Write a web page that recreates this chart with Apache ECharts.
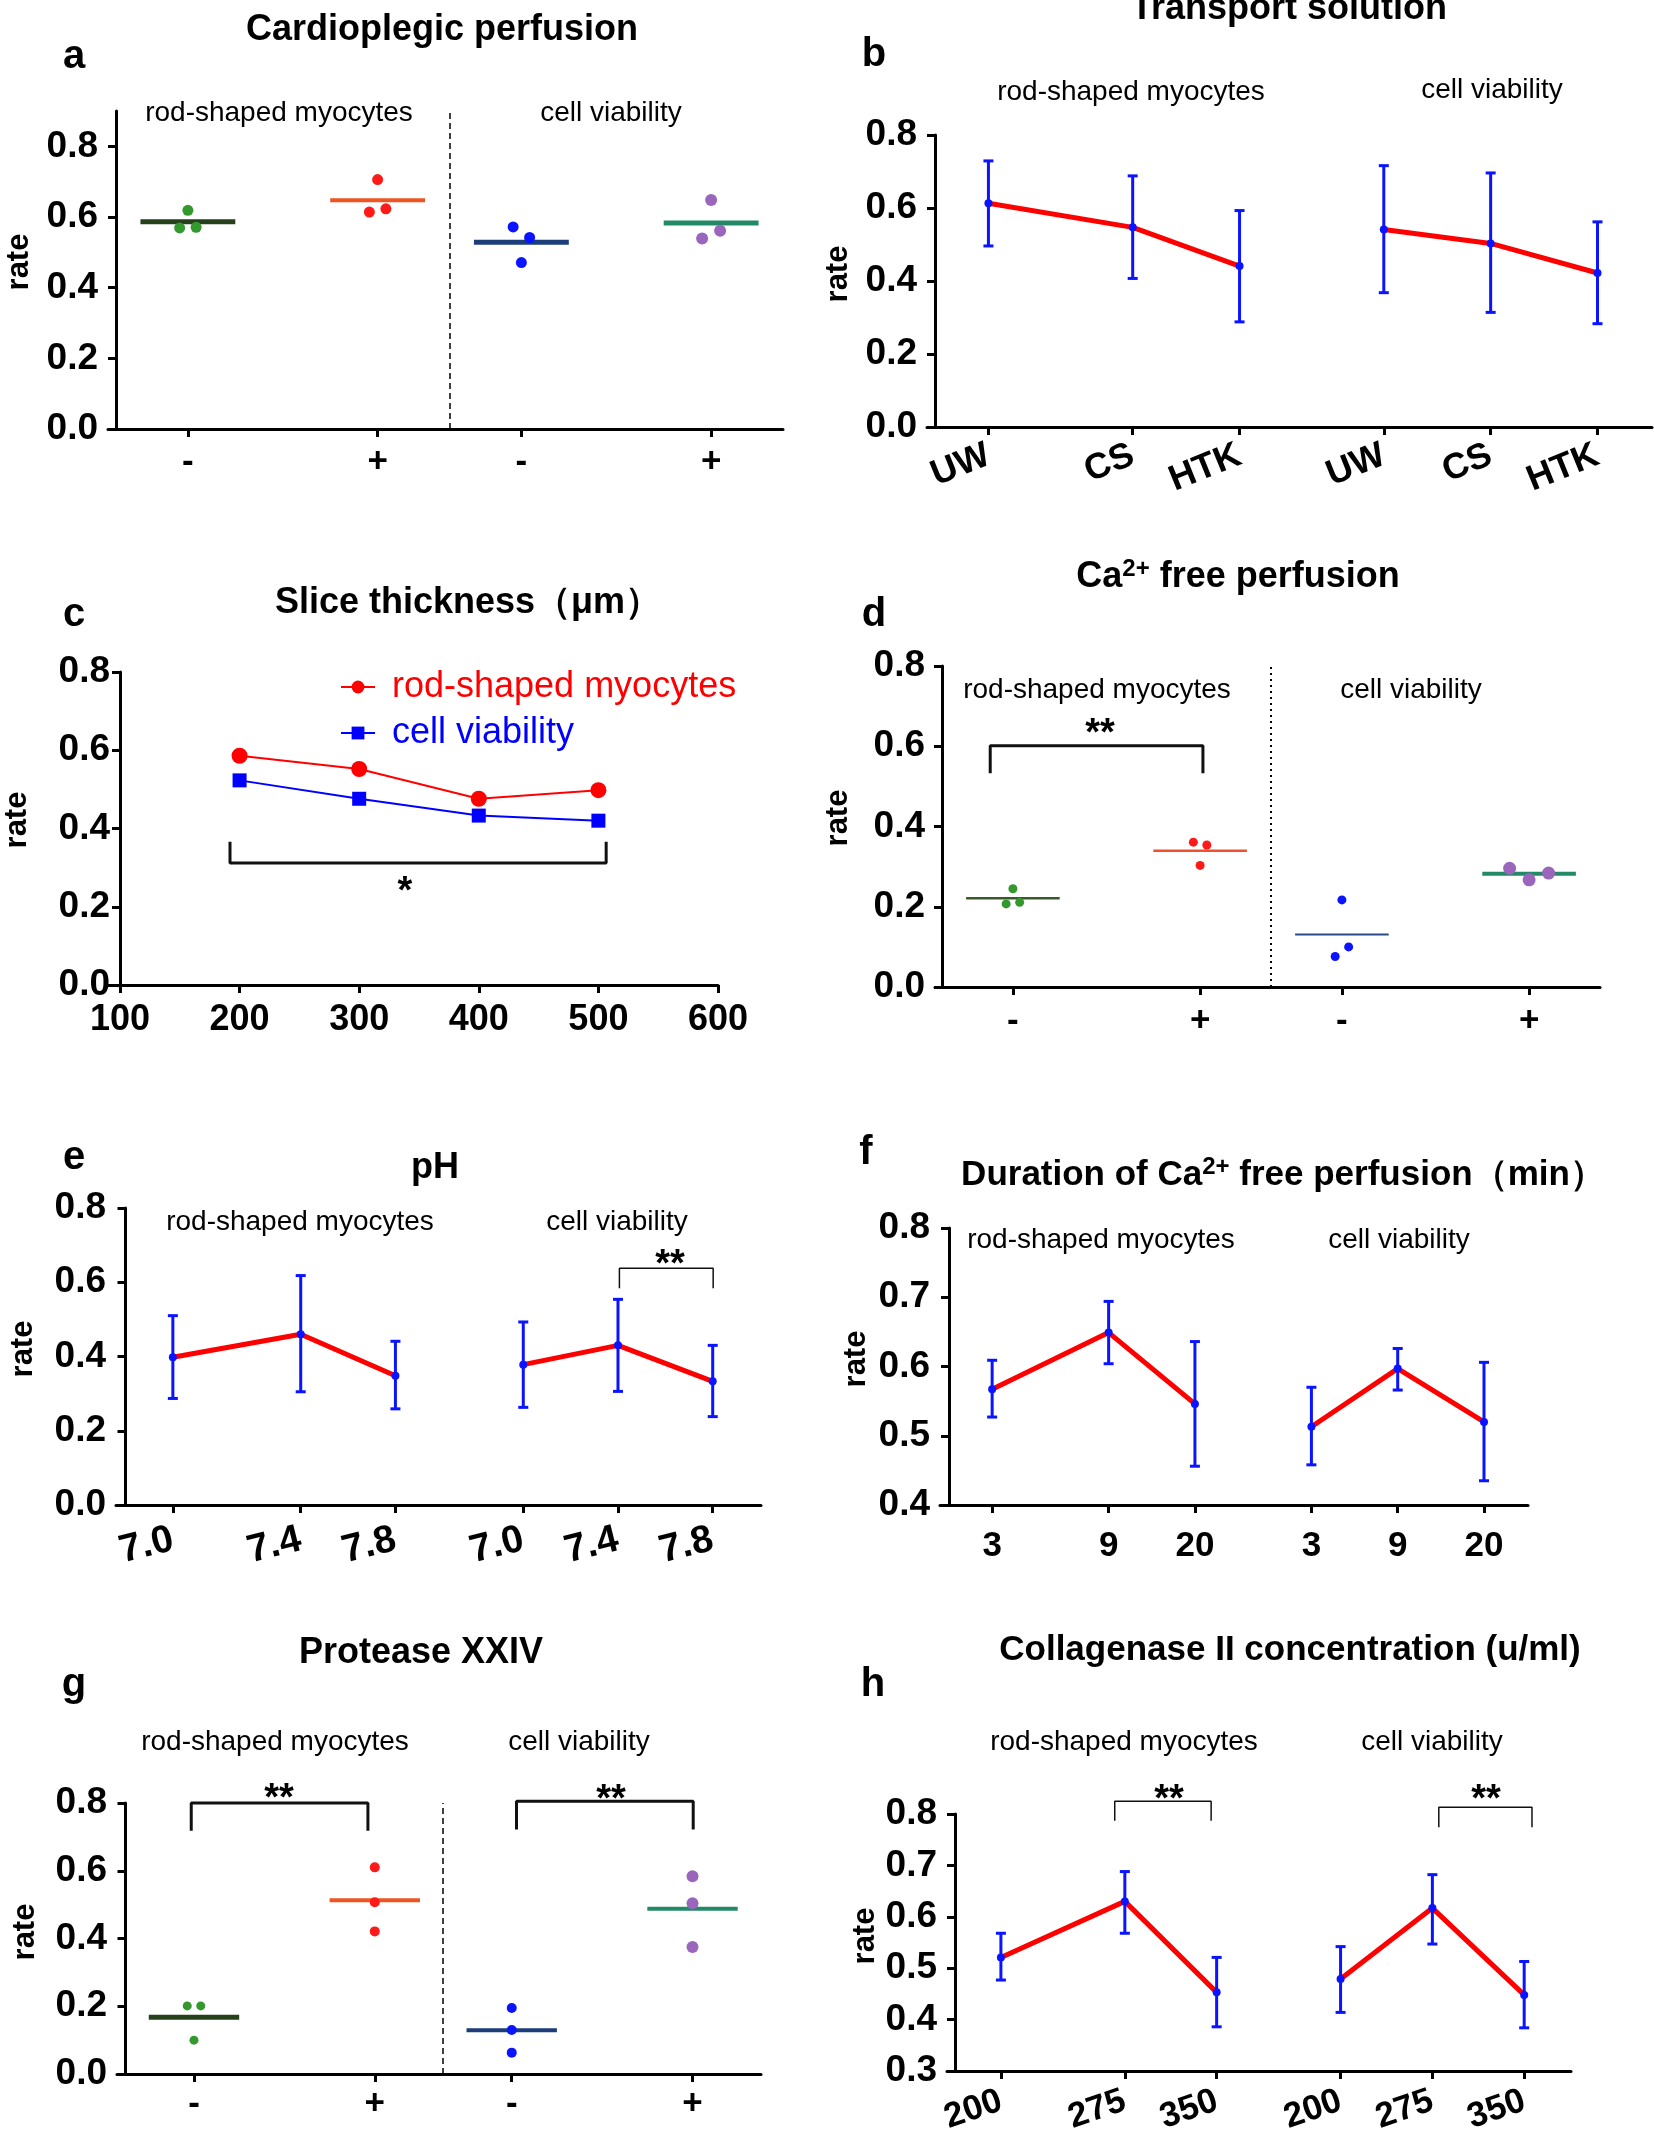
<!DOCTYPE html>
<html>
<head>
<meta charset="utf-8">
<script src="https://cdn.jsdelivr.net/npm/echarts@6/dist/echarts.min.js"></script>
<style>
html, body { margin: 0; padding: 0; background: #fff; }
#figure { width: 1654px; height: 2132px; }
</style>
</head>
<body>
<div id="figure"></div>
<script>
const FONT = '"Liberation Sans", Arial, sans-serif';

// x slots shared by the panels (value-axis units)
const dotSlots = [1, 3.64, 5.64, 8.28];
const dotDivider = 4.64;
const dotMax = 9.28;
const lineSlots = [1, 3.7, 5.7, 8.4, 10.4, 12.4];
const lineMax = 13.42;

const rateTicks = [0, 0.2, 0.4, 0.6, 0.8];
const durTicks = [0.4, 0.5, 0.6, 0.7, 0.8];
const colTicks = [0.3, 0.4, 0.5, 0.6, 0.7, 0.8];

// a  Cardioplegic perfusion
const cardioLabels = ['-', '+', '-', '+'];
const cardioRodMinus = [0.619, 0.569, 0.571];
const cardioRodPlus = [0.706, 0.614, 0.623];
const cardioViaMinus = [0.572, 0.542, 0.471];
const cardioViaPlus = [0.648, 0.539, 0.561];

// b  Transport solution
const transportLabels = ['UW', 'CS', 'HTK', 'UW', 'CS', 'HTK'];
const transportRodMean = [0.613, 0.547, 0.441];
const transportRodHi = [0.729, 0.688, 0.593];
const transportRodLo = [0.496, 0.407, 0.288];
const transportViaMean = [0.541, 0.503, 0.422];
const transportViaHi = [0.716, 0.696, 0.562];
const transportViaLo = [0.368, 0.314, 0.283];

// c  Slice thickness
const sliceTicks = [100, 200, 300, 400, 500, 600];
const sliceX = [200, 300, 400, 500];
const sliceRod = [0.586, 0.552, 0.476, 0.498];
const sliceVia = [0.523, 0.476, 0.433, 0.420];
const sliceBracket = [192, 506.5, 0.366, 0.312];

// d  Ca2+ free perfusion
const caLabels = ['-', '+', '-', '+'];
const caRodMinus = [0.245, 0.207, 0.211];
const caRodPlus = [0.361, 0.354, 0.303];
const caViaMinus = [0.217, 0.076, 0.100];
const caViaPlus = [0.296, 0.267, 0.284];
const caBracket = [0.68, 3.68, 0.533, 0.601];

// e  pH
const phLabels = ['7.0', '7.4', '7.8', '7.0', '7.4', '7.8'];
const phRodMean = [0.398, 0.460, 0.348];
const phRodHi = [0.510, 0.618, 0.441];
const phRodLo = [0.287, 0.305, 0.259];
const phViaMean = [0.378, 0.430, 0.333];
const phViaHi = [0.493, 0.554, 0.430];
const phViaLo = [0.263, 0.306, 0.238];
const phBracket = [10.43, 12.41, 0.584, 0.638];

// f  Duration of Ca2+ free perfusion
const durLabels = ['3', '9', '20', '3', '9', '20'];
const durRodMean = [0.567, 0.649, 0.546];
const durRodHi = [0.609, 0.694, 0.636];
const durRodLo = [0.527, 0.604, 0.456];
const durViaMean = [0.513, 0.597, 0.520];
const durViaHi = [0.570, 0.626, 0.606];
const durViaLo = [0.458, 0.566, 0.435];

// g  Protease XXIV
const proteaseLabels = ['-', '+', '-', '+'];
const proteaseRodMinus = [0.201, 0.201, 0.100];
const proteaseRodPlus = [0.610, 0.507, 0.421];
const proteaseViaMinus = [0.195, 0.130, 0.063];
const proteaseViaPlus = [0.584, 0.504, 0.375];
const proteaseBrackets = [[0.96, 3.54, 0.718, 0.800], [5.71, 8.29, 0.722, 0.805]];

// h  Collagenase II concentration
const colLabels = ['200', '275', '350', '200', '275', '350'];
const colRodMean = [0.521, 0.630, 0.453];
const colRodHi = [0.568, 0.688, 0.521];
const colRodLo = [0.477, 0.568, 0.386];
const colViaMean = [0.479, 0.617, 0.448];
const colViaHi = [0.542, 0.682, 0.513];
const colViaLo = [0.414, 0.547, 0.384];
const colBrackets = [[3.48, 5.58, 0.787, 0.825], [10.54, 12.57, 0.774, 0.813]];

const grid = [], xAxis = [], yAxis = [], series = [], graphic = [];
const axisStyle = { color: '#000', width: 3 };

function addPanel(p) {
    const idx = grid.length;
    p.index = idx;
    if (p.xmin === undefined) {
        p.unit = (p.endX - p.axisX) / p.xmax;
        p.xmin = -(p.axisX - p.startX) / p.unit;
    } else {
        p.unit = (p.endX - p.startX) / (p.xmax - p.xmin);
    }
    p.yPx = (p.bottom - p.top) / (p.ymax - p.ymin);
    grid.push({
        left: p.startX, top: p.top, width: p.endX - p.startX, height: p.bottom - p.top,
        containLabel: false, outerBoundsMode: 'none'
    });
    xAxis.push({
        gridIndex: idx, type: 'value', min: p.xmin, max: p.xmax,
        axisLine: { onZero: false, lineStyle: axisStyle },
        axisTick: { customValues: p.slots, length: 8, lineStyle: axisStyle },
        axisLabel: {
            customValues: p.slots, rotate: p.rotate || 0, margin: p.margin,
            color: '#000', fontFamily: FONT, fontWeight: 'bold', fontSize: p.xFont || 35,
            formatter: function (v) {
                let best = 0;
                p.slots.forEach(function (s, k) {
                    if (Math.abs(s - v) < Math.abs(p.slots[best] - v)) best = k;
                });
                return p.labels[best];
            }
        },
        splitLine: { show: false }
    });
    yAxis.push({
        gridIndex: idx, type: 'value', min: p.ymin, max: p.ymax, offset: p.yOffset || 0,
        axisLine: { show: true, onZero: true, lineStyle: axisStyle },
        axisTick: { show: true, customValues: p.yTicks, length: 8, lineStyle: axisStyle },
        axisLabel: {
            customValues: p.yTicks, margin: 10, color: '#000',
            fontFamily: FONT, fontWeight: 'bold', fontSize: 37,
            formatter: function (v) { return v.toFixed(1); }
        },
        splitLine: { show: false }
    });
    return p;
}

// spread overlapping dots sideways, like a scatter dot plot does
function swarm(values, cx, p, size) {
    const order = values.map(function (v, k) { return k; })
        .sort(function (i, j) { return values[i] - values[j]; });
    const clusters = [];
    let cur = [order[0]];
    for (let k = 1; k < order.length; k++) {
        if ((values[order[k]] - values[order[k - 1]]) * p.yPx < size * 1.3) {
            cur.push(order[k]);
        } else {
            clusters.push(cur);
            cur = [order[k]];
        }
    }
    clusters.push(cur);
    const xs = [];
    clusters.forEach(function (c) {
        c.sort(function (i, j) { return i - j; });
        c.forEach(function (id, j) {
            xs[id] = cx + (j - (c.length - 1) / 2) * size * 1.5 / p.unit;
        });
    });
    return values.map(function (v, k) { return [xs[k], v]; });
}

function dotPanel(p, groups, dividerStyle) {
    groups.forEach(function (g, gi) {
        const cx = p.slots[gi];
        const mean = g.values.reduce(function (s, v) { return s + v; }, 0) / g.values.length;
        series.push({
            type: 'line', xAxisIndex: p.index, yAxisIndex: p.index, silent: true, z: 2,
            data: [[cx - 0.66, mean], [cx + 0.66, mean]], symbol: 'none',
            lineStyle: { color: g.meanColor, width: g.meanWidth }
        });
        series.push({
            type: 'scatter', xAxisIndex: p.index, yAxisIndex: p.index, silent: true, z: 3,
            data: swarm(g.values, cx, p, g.size), symbolSize: g.size,
            itemStyle: { color: g.color, opacity: 1 }
        });
    });
    series.push({
        type: 'line', xAxisIndex: p.index, yAxisIndex: p.index, data: [], silent: true,
        markLine: {
            silent: true, symbol: 'none', label: { show: false }, animation: false,
            lineStyle: dividerStyle, data: [{ xAxis: dotDivider }]
        }
    });
}

function errorBars(p, xs, lo, hi) {
    series.push({
        type: 'custom', xAxisIndex: p.index, yAxisIndex: p.index, z: 4, silent: true,
        data: xs.map(function (x, k) { return [x, lo[k], hi[k]]; }),
        encode: { x: 0, y: [1, 2] },
        renderItem: function (params, api) {
            const t = api.coord([api.value(0), api.value(2)]);
            const b = api.coord([api.value(0), api.value(1)]);
            const w = 5;
            const st = { stroke: '#0a14ff', lineWidth: 3 };
            return {
                type: 'group', children: [
                    { type: 'line', shape: { x1: t[0], y1: t[1], x2: b[0], y2: b[1] }, style: st },
                    { type: 'line', shape: { x1: t[0] - w, y1: t[1], x2: t[0] + w, y2: t[1] }, style: st },
                    { type: 'line', shape: { x1: b[0] - w, y1: b[1], x2: b[0] + w, y2: b[1] }, style: st }
                ]
            };
        }
    });
}

function linePanel(p, groups) {
    groups.forEach(function (g, gi) {
        const xs = p.slots.slice(gi * 3, gi * 3 + 3);
        series.push({
            type: 'line', xAxisIndex: p.index, yAxisIndex: p.index, silent: true, z: 3,
            data: xs.map(function (x, k) { return [x, g.mean[k]]; }),
            symbol: 'circle', symbolSize: 8,
            itemStyle: { color: '#0a14ff' },
            lineStyle: { color: '#ff0000', width: 5 }
        });
        errorBars(p, xs, g.lo, g.hi);
    });
}

function bracket(p, b, width) {
    series.push({
        type: 'line', xAxisIndex: p.index, yAxisIndex: p.index, silent: true, clip: false, z: 2,
        data: [[b[0], b[2]], [b[0], b[3]], [b[1], b[3]], [b[1], b[2]]],
        symbol: 'none', lineStyle: { color: '#111', width: width }
    });
}

function text(x, y, str, size, weight, extra) {
    const el = {
        type: 'text', x: x, y: y, silent: true,
        style: Object.assign({
            text: str, fill: '#000', align: 'center', verticalAlign: 'middle',
            fontFamily: FONT, fontSize: size, fontWeight: weight
        }, extra && extra.style)
    };
    if (extra && extra.rotation) el.rotation = extra.rotation;
    graphic.push(el);
}

function rate(x, y) {
    text(x, y, 'rate', 31, 'bold', { rotation: Math.PI / 2 });
}

const supRich = {
    rich: {
        sup: { fontSize: 24, fontWeight: 'bold', fontFamily: FONT, verticalAlign: 'top', lineHeight: 22 }
    },
    lineHeight: 40
};

// ---- panel a
const pa = addPanel({ startX: 108, axisX: 116, endX: 783, top: 111, bottom: 429, ymin: 0, ymax: 0.9,
    yTicks: rateTicks, slots: dotSlots, xmax: dotMax, labels: cardioLabels, margin: 16 });
dotPanel(pa, [
    { values: cardioRodMinus, color: '#33992e', size: 11, meanColor: '#25401a', meanWidth: 5 },
    { values: cardioRodPlus, color: '#ff1a1a', size: 11, meanColor: '#ee5522', meanWidth: 4 },
    { values: cardioViaMinus, color: '#0a14ff', size: 11, meanColor: '#1b3d7a', meanWidth: 5 },
    { values: cardioViaPlus, color: '#9966bb', size: 12, meanColor: '#238a68', meanWidth: 5 }
], { color: '#000', width: 1.5, type: [6, 4] });

// ---- panel b
const pb = addPanel({ startX: 927, axisX: 935, endX: 1652, top: 135, bottom: 427, ymin: 0, ymax: 0.8,
    yTicks: rateTicks, slots: lineSlots, xmax: lineMax, labels: transportLabels,
    rotate: 22, margin: 27, xFont: 36 });
linePanel(pb, [
    { mean: transportRodMean, lo: transportRodLo, hi: transportRodHi },
    { mean: transportViaMean, lo: transportViaLo, hi: transportViaHi }
]);

// ---- panel c
const pc = addPanel({ startX: 108, endX: 718, xmin: 90, xmax: 600, yOffset: -12, top: 672, bottom: 985,
    ymin: 0, ymax: 0.8, yTicks: rateTicks, slots: sliceTicks, labels: sliceTicks.map(String), margin: 17, xFont: 36 });
series.push({
    name: 'rod-shaped myocytes', type: 'line', xAxisIndex: pc.index, yAxisIndex: pc.index, z: 3,
    data: sliceX.map(function (x, k) { return [x, sliceRod[k]]; }),
    symbol: 'circle', symbolSize: 16, itemStyle: { color: '#ff0000' }, lineStyle: { color: '#ff0000', width: 2 }
});
series.push({
    name: 'cell viability', type: 'line', xAxisIndex: pc.index, yAxisIndex: pc.index, z: 3,
    data: sliceX.map(function (x, k) { return [x, sliceVia[k]]; }),
    symbol: 'rect', symbolSize: 14, itemStyle: { color: '#0000ff' }, lineStyle: { color: '#0000ff', width: 2 }
});
bracket(pc, sliceBracket, 3);

// ---- panel d
const pd = addPanel({ startX: 935, axisX: 942, endX: 1600, top: 666, bottom: 987, ymin: 0, ymax: 0.8,
    yTicks: rateTicks, slots: dotSlots, xmax: dotMax, labels: caLabels, margin: 17 });
dotPanel(pd, [
    { values: caRodMinus, color: '#33992e', size: 9, meanColor: '#3a5a2a', meanWidth: 2.5 },
    { values: caRodPlus, color: '#ff1a1a', size: 9, meanColor: '#f05030', meanWidth: 2.5 },
    { values: caViaMinus, color: '#0a14ff', size: 9, meanColor: '#2a4a8a', meanWidth: 2 },
    { values: caViaPlus, color: '#9966bb', size: 13, meanColor: '#238a68', meanWidth: 4 }
], { color: '#000', width: 2, type: [2, 4] });
bracket(pd, caBracket, 3);

// ---- panel e
const pe = addPanel({ startX: 116, axisX: 125.5, endX: 761, top: 1208, bottom: 1505, ymin: 0, ymax: 0.8,
    yTicks: rateTicks, slots: lineSlots, xmax: lineMax, labels: phLabels,
    rotate: 14, margin: 34, xFont: 39 });
linePanel(pe, [
    { mean: phRodMean, lo: phRodLo, hi: phRodHi },
    { mean: phViaMean, lo: phViaLo, hi: phViaHi }
]);
bracket(pe, phBracket, 1.5);

// ---- panel f
const pf = addPanel({ startX: 940, axisX: 949, endX: 1528, top: 1228, bottom: 1505, ymin: 0.4, ymax: 0.8,
    yTicks: durTicks, slots: lineSlots, xmax: lineMax, labels: durLabels, margin: 24, xFont: 35 });
linePanel(pf, [
    { mean: durRodMean, lo: durRodLo, hi: durRodHi },
    { mean: durViaMean, lo: durViaLo, hi: durViaHi }
]);

// ---- panel g
const pg = addPanel({ startX: 117, axisX: 125.5, endX: 761, top: 1803, bottom: 2074, ymin: 0, ymax: 0.8,
    yTicks: rateTicks, slots: dotSlots, xmax: dotMax, labels: proteaseLabels, margin: 13 });
dotPanel(pg, [
    { values: proteaseRodMinus, color: '#33992e', size: 9, meanColor: '#25401a', meanWidth: 5 },
    { values: proteaseRodPlus, color: '#ff1a1a', size: 10, meanColor: '#ee5522', meanWidth: 4 },
    { values: proteaseViaMinus, color: '#0a14ff', size: 10, meanColor: '#1b3d7a', meanWidth: 4 },
    { values: proteaseViaPlus, color: '#9966bb', size: 12, meanColor: '#238a68', meanWidth: 4 }
], { color: '#000', width: 1.5, type: [6, 4] });
proteaseBrackets.forEach(function (b) { bracket(pg, b, 3); });

// ---- panel h
const ph = addPanel({ startX: 947, axisX: 955, endX: 1571, top: 1814, bottom: 2071, ymin: 0.3, ymax: 0.8,
    yTicks: colTicks, slots: lineSlots, xmax: lineMax, labels: colLabels,
    rotate: 19, margin: 29, xFont: 35 });
linePanel(ph, [
    { mean: colRodMean, lo: colRodLo, hi: colRodHi },
    { mean: colViaMean, lo: colViaLo, hi: colViaHi }
]);
colBrackets.forEach(function (b) { bracket(ph, b, 1.5); });

// ---- texts
text(442, 30, 'Cardioplegic perfusion', 36, 'bold');
text(1289, 9, 'Transport solution', 36, 'bold');
text(468, 603, 'Slice thickness（μm）', 36, 'bold');
text(1238, 577, 'Ca{sup|2+} free perfusion', 36, 'bold', { style: supRich });
text(435, 1168, 'pH', 36, 'bold');
text(1283, 1175, 'Duration of Ca{sup|2+} free perfusion（min）', 35, 'bold', { style: supRich });
text(421, 1653, 'Protease XXIV', 36, 'bold');
text(1290, 1650, 'Collagenase II concentration (u/ml)', 35, 'bold');

[['a', 74, 57], ['b', 874, 55], ['c', 74, 615], ['d', 874, 615],
 ['e', 74, 1158], ['f', 866, 1153], ['g', 74, 1685], ['h', 873, 1685]].forEach(function (l) {
    text(l[1], l[2], l[0], 40, 'bold');
});

[[279, 113, 611, 113], [1131, 92, 1492, 90], [1097, 690, 1411, 690], [300, 1222, 617, 1222],
 [1101, 1240, 1399, 1240], [275, 1742, 579, 1742], [1124, 1742, 1432, 1742]].forEach(function (s) {
    text(s[0], s[1], 'rod-shaped myocytes', 28, 'normal');
    text(s[2], s[3], 'cell viability', 28, 'normal');
});

rate(19, 262); rate(838, 274); rate(17, 820); rate(838, 818);
rate(23, 1349); rate(856, 1359); rate(25, 1932); rate(865, 1936);

text(405, 893, '*', 38, 'bold');
[[1100, 735], [670, 1266], [279, 1800], [611, 1801], [1169, 1801], [1486, 1801]].forEach(function (s) {
    text(s[0], s[1], '**', 38, 'bold');
});

const chart = echarts.init(document.getElementById('figure'));
chart.setOption({
    animation: false,
    backgroundColor: '#fff',
    textStyle: { fontFamily: FONT },
    grid: grid,
    xAxis: xAxis,
    yAxis: yAxis,
    legend: {
        left: 335, top: 662, orient: 'vertical', itemWidth: 34, itemHeight: 16, itemGap: 6,
        selectedMode: false,
        textStyle: { fontSize: 36, fontFamily: FONT, lineHeight: 40, padding: [0, 0, 0, 12] },
        data: [
            { name: 'rod-shaped myocytes', textStyle: { color: '#ff0000' } },
            { name: 'cell viability', textStyle: { color: '#0000ff' } }
        ]
    },
    series: series,
    graphic: graphic
});
</script>
</body>
</html>
